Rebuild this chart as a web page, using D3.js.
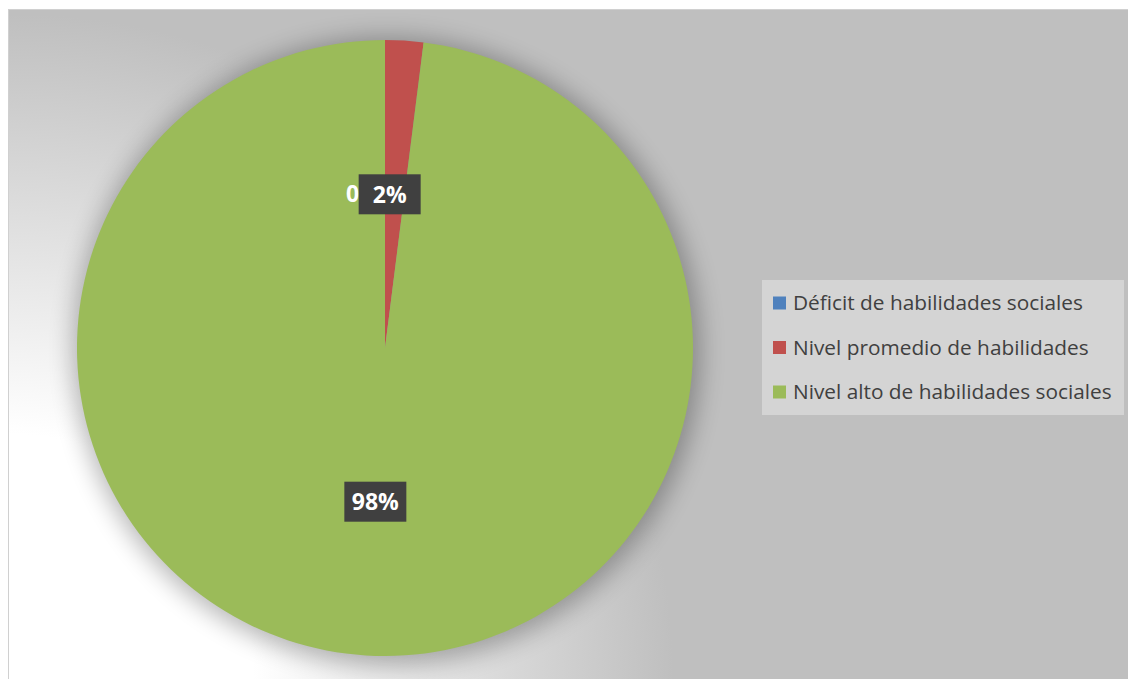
<!DOCTYPE html>
<html>
<head>
<meta charset="utf-8">
<script src="https://cdn.jsdelivr.net/npm/d3@7"></script>
<style>
  html, body { margin: 0; padding: 0; background: #fff; }
  svg { display: block; }
</style>
</head>
<body>
<svg id="chart"></svg>
<script>
// data
const categories = ["Déficit de habilidades sociales", "Nivel promedio de habilidades", "Nivel alto de habilidades sociales"];
const values = [0, 2, 98];
const colors = ["#4f81bd", "#c0504d", "#9bbb59"];

const W = 1128, H = 679;
const cx = 385, cy = 348, radius = 308;

const svg = d3.select("#chart").attr("width", W).attr("height", H);
const defs = svg.append("defs");

// background: light in the lower left, grey elsewhere
const bg = defs.append("radialGradient")
    .attr("id", "bg")
    .attr("gradientUnits", "userSpaceOnUse")
    .attr("cx", 8).attr("cy", H).attr("r", 700);
bg.append("stop").attr("offset", 0).attr("stop-color", "#ffffff");
bg.append("stop").attr("offset", 0.35).attr("stop-color", "#ffffff");
bg.append("stop").attr("offset", 0.95).attr("stop-color", "#bfbfbf");

const blur = defs.append("filter").attr("id", "shadow")
    .attr("x", "-20%").attr("y", "-20%").attr("width", "140%").attr("height", "140%");
blur.append("feGaussianBlur").attr("stdDeviation", 12);

svg.append("rect")
    .attr("x", 8.5).attr("y", 9.5)
    .attr("width", W - 8).attr("height", H - 9)
    .attr("fill", "url(#bg)")
    .attr("stroke", "#d0d0d0");

const g = svg.append("g").attr("transform", "translate(" + cx + "," + cy + ")");

// soft shadow behind the pie
g.append("circle")
    .attr("cx", 2).attr("cy", 3).attr("r", radius + 6)
    .attr("fill", "#000").attr("opacity", 0.28)
    .attr("filter", "url(#shadow)");

const pie = d3.pie().sort(null).value(function(d) { return d; });
const arc = d3.arc().innerRadius(0).outerRadius(radius);
const labelArc = d3.arc().innerRadius(radius * 0.5).outerRadius(radius * 0.5);

const slices = pie(values);

g.selectAll("path.slice")
    .data(slices)
    .enter()
    .append("path")
    .attr("class", "slice")
    .attr("d", arc)
    .attr("fill", function(d, i) { return colors[i]; });

// data labels (dark boxes, white bold text)
const labelFont = "'Open Sans', 'Noto Sans', sans-serif";
const labels = g.selectAll("g.lbl")
    .data(slices)
    .enter()
    .append("g")
    .attr("class", "lbl")
    .attr("transform", function(d) {
        const p = labelArc.centroid(d);
        // the two small labels collide; nudge them apart a bit
        if (d.data === 0) p[0] -= 22;
        else if (d.data < 10) p[0] -= 5;
        return "translate(" + p + ")";
    });

labels.each(function(d) {
    const sel = d3.select(this);
    sel.append("text")
        .attr("text-anchor", "middle")
        .attr("dy", "0.36em")
        .attr("fill", "#fff")
        .attr("font-family", labelFont)
        .attr("font-weight", "bold")
        .attr("font-size", 23)
        .text(d.data + "%");
    if (d.data > 0) {
        sel.insert("rect", "text")
            .attr("x", -31).attr("y", -20)
            .attr("width", 62).attr("height", 40)
            .attr("fill", "#404040");
    }
});

// legend
const legend = svg.append("g").attr("transform", "translate(762,280)");
legend.append("rect")
    .attr("width", 362).attr("height", 135)
    .attr("fill", "#d4d4d4");

const rows = legend.selectAll("g.row")
    .data(categories)
    .enter()
    .append("g")
    .attr("class", "row")
    .attr("transform", function(d, i) { return "translate(0," + (23 + i * 44.5) + ")"; });

rows.append("rect")
    .attr("x", 11).attr("y", -6.5)
    .attr("width", 13).attr("height", 13)
    .attr("fill", function(d, i) { return colors[i]; });

const legendText = rows.append("text")
    .attr("x", 31)
    .attr("dy", "0.35em")
    .attr("fill", "#404040")
    .attr("font-family", "'Open Sans', 'Noto Sans', sans-serif")
    .attr("font-size", 20)
    .text(function(d) { return d; });

// shrink to match the narrow original face
const w0 = legendText.node().getComputedTextLength();
const fs = 20 * 290 / w0;
legendText.attr("font-size", fs);
</script>
</body>
</html>
